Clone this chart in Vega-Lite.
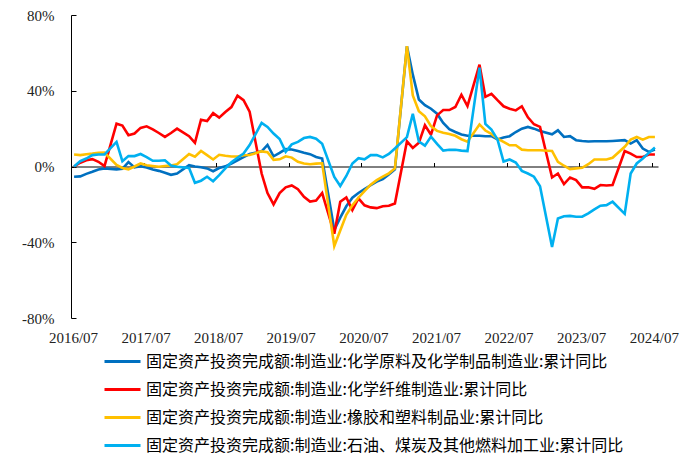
{
  "$schema": "https://vega.github.io/schema/vega-lite/v6.json",
  "width": 587,
  "height": 303,
  "autosize": {"type": "none"},
  "padding": {"left": 71, "top": 15, "right": 23, "bottom": 136},
  "background": "white",
  "config": {"view": {"stroke": null}, "axis": {"grid": false}},
  "data": {
    "values": [
      {"d": "2016-07", "s1": -5.4, "s2": 0, "s3": 6.3, "s4": 0},
      {"d": "2016-08", "s1": -5.2, "s2": 2, "s3": 6, "s4": 2.8},
      {"d": "2016-09", "s1": -3.9, "s2": 3.3, "s3": 6.5, "s4": 4.2},
      {"d": "2016-10", "s1": -2.8, "s2": 3.9, "s3": 6.8, "s4": 6},
      {"d": "2016-11", "s1": -1.6, "s2": 2.5, "s3": 7.2, "s4": 6.3},
      {"d": "2016-12", "s1": -1, "s2": 0.2, "s3": 7.4, "s4": 6.4},
      {"d": "2017-02", "s1": -1.5, "s2": 22.6, "s3": 0.8, "s4": 13},
      {"d": "2017-03", "s1": -1.2, "s2": 21.6, "s3": -0.8, "s4": 2.8},
      {"d": "2017-04", "s1": 2.3, "s2": 16.5, "s3": -1.5, "s4": 5.5},
      {"d": "2017-05", "s1": -0.5, "s2": 17.4, "s3": 0, "s4": 5.5},
      {"d": "2017-06", "s1": 0.2, "s2": 20.4, "s3": 1.6, "s4": 6.6},
      {"d": "2017-07", "s1": -0.5, "s2": 21.2, "s3": 0.7, "s4": 5},
      {"d": "2017-08", "s1": -1.6, "s2": 19.6, "s3": 0.3, "s4": 3},
      {"d": "2017-09", "s1": -2.3, "s2": 17.7, "s3": -0.1, "s4": 3},
      {"d": "2017-10", "s1": -3.3, "s2": 15.6, "s3": 0.3, "s4": 3.3},
      {"d": "2017-11", "s1": -4.4, "s2": 17.7, "s3": 0.5, "s4": 0.5},
      {"d": "2017-12", "s1": -3.7, "s2": 20, "s3": 1.2, "s4": -0.1},
      {"d": "2018-02", "s1": 0.7, "s2": 16, "s3": 6.6, "s4": -0.8},
      {"d": "2018-03", "s1": 0, "s2": 12.5, "s3": 5.2, "s4": -8.6},
      {"d": "2018-04", "s1": -0.4, "s2": 24.7, "s3": 8.2, "s4": -7.5},
      {"d": "2018-05", "s1": -1, "s2": 24, "s3": 6, "s4": -5.4},
      {"d": "2018-06", "s1": -2.5, "s2": 28.2, "s3": 3.7, "s4": -7.8},
      {"d": "2018-07", "s1": -0.8, "s2": 25.8, "s3": 6.2, "s4": -4.6},
      {"d": "2018-08", "s1": 0.1, "s2": 28.8, "s3": 5.7, "s4": -1},
      {"d": "2018-09", "s1": 1.6, "s2": 31.4, "s3": 5.3, "s4": 2.2},
      {"d": "2018-10", "s1": 3.3, "s2": 37.4, "s3": 5.3, "s4": 4.6},
      {"d": "2018-11", "s1": 5, "s2": 35, "s3": 5.9, "s4": 6.8},
      {"d": "2018-12", "s1": 6.6, "s2": 29, "s3": 6.1, "s4": 11.3},
      {"d": "2019-02", "s1": 8, "s2": -3.7, "s3": 8, "s4": 23},
      {"d": "2019-03", "s1": 11.4, "s2": -14, "s3": 7.5, "s4": 20.9},
      {"d": "2019-04", "s1": 5.4, "s2": -20, "s3": 3.5, "s4": 17.4},
      {"d": "2019-05", "s1": 7.2, "s2": -14, "s3": 3.8, "s4": 14.5},
      {"d": "2019-06", "s1": 9.2, "s2": -11, "s3": 5.4, "s4": 7.7},
      {"d": "2019-07", "s1": 9, "s2": -10, "s3": 4.7, "s4": 11.7},
      {"d": "2019-08", "s1": 8.2, "s2": -12, "s3": 2.5, "s4": 13},
      {"d": "2019-09", "s1": 7.3, "s2": -16, "s3": 1.6, "s4": 15},
      {"d": "2019-10", "s1": 6.5, "s2": -18.5, "s3": 1.2, "s4": 15.6},
      {"d": "2019-11", "s1": 5, "s2": -18, "s3": 1.5, "s4": 14.7},
      {"d": "2019-12", "s1": 4.2, "s2": -14, "s3": 1.7, "s4": 12},
      {"d": "2020-02", "s1": -33.5, "s2": -35.5, "s3": -42, "s4": -5.5},
      {"d": "2020-03", "s1": -27, "s2": -18.6, "s3": -33.8, "s4": -10.3},
      {"d": "2020-04", "s1": -21, "s2": -16.3, "s3": -25.5, "s4": -5},
      {"d": "2020-05", "s1": -16.5, "s2": -23, "s3": -20.5, "s4": 1.6},
      {"d": "2020-06", "s1": -14, "s2": -16.8, "s3": -16.5, "s4": 4.4},
      {"d": "2020-07", "s1": -12, "s2": -20.5, "s3": -13, "s4": 3.8},
      {"d": "2020-08", "s1": -9.9, "s2": -21.6, "s3": -9.6, "s4": 6},
      {"d": "2020-09", "s1": -8, "s2": -22, "s3": -7.2, "s4": 6},
      {"d": "2020-10", "s1": -6.6, "s2": -21, "s3": -5.4, "s4": 4.8},
      {"d": "2020-11", "s1": -4.2, "s2": -20.7, "s3": -3.6, "s4": 6.6},
      {"d": "2020-12", "s1": -1.5, "s2": -19.5, "s3": -1, "s4": 9.5},
      {"d": "2021-02", "s1": 63.5, "s2": 13.3, "s3": 63.5, "s4": 15.5},
      {"d": "2021-03", "s1": 48.5, "s2": 9.8, "s3": 37.5, "s4": 27.8},
      {"d": "2021-04", "s1": 35.4, "s2": 12.5, "s3": 29.2, "s4": 13.2},
      {"d": "2021-05", "s1": 32.4, "s2": 21.8, "s3": 26.5, "s4": 11},
      {"d": "2021-06", "s1": 30.5, "s2": 16.8, "s3": 21.3, "s4": 15.8},
      {"d": "2021-07", "s1": 27.9, "s2": 27, "s3": 18.8, "s4": 12},
      {"d": "2021-08", "s1": 23, "s2": 29.8, "s3": 17.8, "s4": 8.4},
      {"d": "2021-09", "s1": 19.7, "s2": 29.8, "s3": 17.2, "s4": 8.8},
      {"d": "2021-10", "s1": 18.2, "s2": 31.4, "s3": 16.2, "s4": 8.8},
      {"d": "2021-11", "s1": 16.9, "s2": 37.9, "s3": 14.4, "s4": 8.4},
      {"d": "2021-12", "s1": 16.2, "s2": 31.9, "s3": 13.1, "s4": 8.1},
      {"d": "2022-02", "s1": 16.2, "s2": 53.8, "s3": 22.2, "s4": 52.2},
      {"d": "2022-03", "s1": 16, "s2": 36.8, "s3": 19, "s4": 22.5},
      {"d": "2022-04", "s1": 16, "s2": 38.4, "s3": 17.2, "s4": 19.5},
      {"d": "2022-05", "s1": 14.3, "s2": 35, "s3": 14.7, "s4": 14.3},
      {"d": "2022-06", "s1": 15.3, "s2": 31.8, "s3": 13, "s4": 2.6},
      {"d": "2022-07", "s1": 16, "s2": 30.5, "s3": 11.2, "s4": 3.7},
      {"d": "2022-08", "s1": 18.2, "s2": 29.6, "s3": 11.2, "s4": 2.1},
      {"d": "2022-09", "s1": 20, "s2": 31.8, "s3": 8.9, "s4": -2.3},
      {"d": "2022-10", "s1": 20.9, "s2": 26, "s3": 8.6, "s4": -3.7},
      {"d": "2022-11", "s1": 20, "s2": 22.3, "s3": 8.6, "s4": -5.4},
      {"d": "2022-12", "s1": 18.8, "s2": 20.9, "s3": 8.6, "s4": -10.4},
      {"d": "2023-02", "s1": 17, "s2": -5.8, "s3": 8.2, "s4": -42.5},
      {"d": "2023-03", "s1": 19.1, "s2": -3.7, "s3": 2.5, "s4": -27.5},
      {"d": "2023-04", "s1": 15.6, "s2": -9.3, "s3": 0.4, "s4": -26.3},
      {"d": "2023-05", "s1": 16, "s2": -5.8, "s3": -1.4, "s4": -26.1},
      {"d": "2023-06", "s1": 13.9, "s2": -7.2, "s3": -1, "s4": -26.5},
      {"d": "2023-07", "s1": 13.5, "s2": -11, "s3": -0.7, "s4": -26.5},
      {"d": "2023-08", "s1": 13.2, "s2": -11, "s3": 1.2, "s4": -24.7},
      {"d": "2023-09", "s1": 13.3, "s2": -11.8, "s3": 3.7, "s4": -22.6},
      {"d": "2023-10", "s1": 13.3, "s2": -9.8, "s3": 3.7, "s4": -20.7},
      {"d": "2023-11", "s1": 13.3, "s2": -10, "s3": 3.7, "s4": -20.4},
      {"d": "2023-12", "s1": 13.5, "s2": -9.8, "s3": 4.6, "s4": -18.6},
      {"d": "2024-02", "s1": 13.9, "s2": 8.2, "s3": 10.4, "s4": -25},
      {"d": "2024-03", "s1": 12.1, "s2": 6.8, "s3": 14.2, "s4": -3.7},
      {"d": "2024-04", "s1": 13.9, "s2": 5, "s3": 15.6, "s4": 1.6},
      {"d": "2024-05", "s1": 9.5, "s2": 5, "s3": 14.2, "s4": 4.2},
      {"d": "2024-06", "s1": 7.7, "s2": 6.3, "s3": 15.6, "s4": 7.2},
      {"d": "2024-07", "s1": 9, "s2": 6.3, "s3": 15.6, "s4": 10}
    ]
  },
  "transform": [{"fold": ["s1", "s2", "s3", "s4"], "as": ["series", "value"]}],
  "mark": {"type": "line", "strokeWidth": 2.6},
  "encoding": {
    "x": {
      "field": "d",
      "type": "temporal",
      "timeUnit": "utcyearmonth",
      "bandPosition": 0.5,
      "scale": {"domain": [{"year": 2016, "month": 7, "utc": true}, {"year": 2024, "month": 8, "utc": true}]},
      "axis": {
        "orient": "bottom",
        "offset": -151.5,
        "title": null,
        "values": [
          {"year": 2016, "month": 7, "utc": true},
          {"year": 2017, "month": 7, "utc": true},
          {"year": 2018, "month": 7, "utc": true},
          {"year": 2019, "month": 7, "utc": true},
          {"year": 2020, "month": 7, "utc": true},
          {"year": 2021, "month": 7, "utc": true},
          {"year": 2022, "month": 7, "utc": true},
          {"year": 2023, "month": 7, "utc": true},
          {"year": 2024, "month": 7, "utc": true}
        ],
        "labelExpr": "utcFormat(datum.value, '%Y/%m')",
        "domainColor": "#000000",
        "domainWidth": 1,
        "tickColor": "#000000",
        "tickSize": -4,
        "labelPadding": 168,
        "labelFont": "Liberation Serif",
        "labelFontSize": 15,
        "labelColor": "#222222",
        "labelFlush": false,
        "labelOverlap": false,
        "labelOffset": 2
      }
    },
    "y": {
      "field": "value",
      "type": "quantitative",
      "scale": {"domain": [-80, 80], "nice": false},
      "axis": {
        "title": null,
        "values": [-80, -40, 0, 40, 80],
        "labelExpr": "datum.value + '%'",
        "domainColor": "#000000",
        "domainWidth": 1,
        "tickColor": "#000000",
        "tickSize": -5,
        "labelPadding": 22,
        "labelFont": "Liberation Serif",
        "labelFontSize": 15,
        "labelColor": "#222222"
      }
    },
    "color": {
      "field": "series",
      "type": "nominal",
      "scale": {"domain": ["s1", "s2", "s3", "s4"], "range": ["#0070C0", "#FF0000", "#FFC000", "#00B0F0"]},
      "legend": {
        "orient": "none",
        "legendX": 32,
        "legendY": 327,
        "direction": "vertical",
        "title": null,
        "symbolType": "stroke",
        "symbolSize": 1296,
        "symbolStrokeWidth": 3,
        "labelFont": "Noto Sans CJK SC",
        "labelFontSize": 16,
        "labelColor": "#000000",
        "labelLimit": 0,
        "labelOffset": 4,
        "rowPadding": 0,
        "padding": 0,
        "labelExpr": "datum.label == 's1' ? '固定资产投资完成额:制造业:化学原料及化学制品制造业:累计同比' : datum.label == 's2' ? '固定资产投资完成额:制造业:化学纤维制造业:累计同比' : datum.label == 's3' ? '固定资产投资完成额:制造业:橡胶和塑料制品业:累计同比' : '固定资产投资完成额:制造业:石油、煤炭及其他燃料加工业:累计同比'"
      }
    }
  }
}
